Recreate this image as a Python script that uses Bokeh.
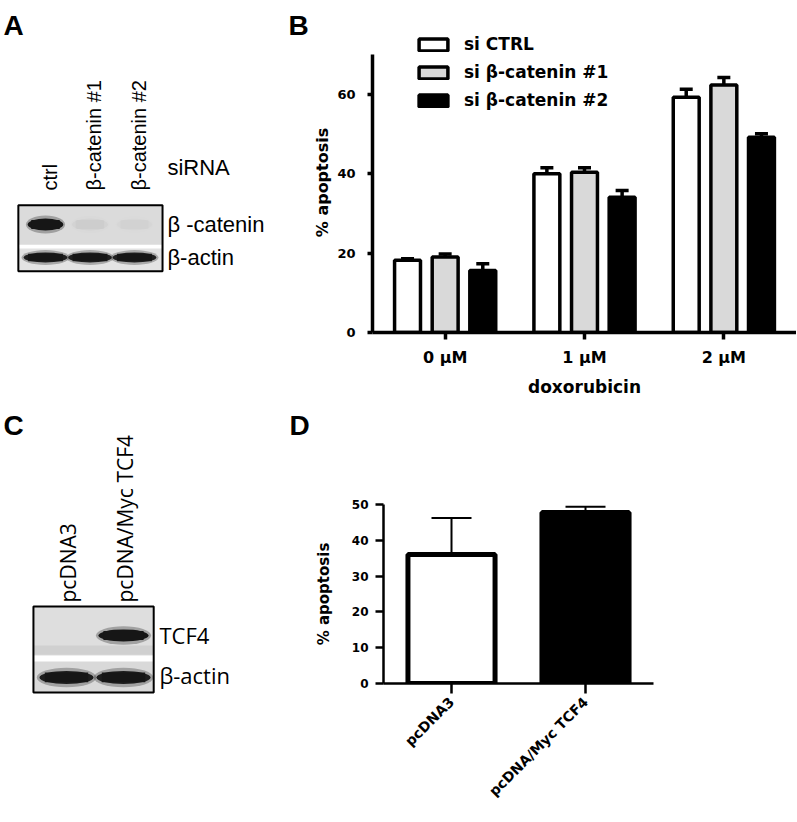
import math
from bokeh.plotting import figure
from bokeh.models import (Range1d, ColumnDataSource, FixedTicker, Whisker, TeeHead,
                          Legend, LegendItem)
from bokeh.layouts import row, column
from bokeh.transform import dodge
from bokeh.embed import file_html
from bokeh.resources import INLINE
from bokeh.core.properties import value

# ---------------- data ----------------
# Panel A: western blot (relative band intensity per lane)
a_lanes = ["ctrl", "β-catenin #1", "β-catenin #2"]
a_bands = ["β -catenin", "β-actin"]
a_bcat = [1.0, 0.03, 0.015]
a_actin = [0.95, 0.93, 0.93]

# Panel B: % apoptosis vs doxorubicin
b_doses = ["0 μM", "1 μM", "2 μM"]
b_series = ["si CTRL", "si β-catenin #1", "si β-catenin #2"]
b_ctrl = [18.2, 40.0, 59.3]
b_ctrl_sem = [0.4, 1.5, 2.0]
b_cat1 = [19.0, 40.4, 62.4]
b_cat1_sem = [0.8, 1.1, 1.9]
b_cat2 = [15.6, 34.1, 49.2]
b_cat2_sem = [1.7, 1.7, 0.9]
b_yticks = [0, 20, 40, 60]

# Panel C: western blot
c_lanes = ["pcDNA3", "pcDNA/Myc TCF4"]
c_bands = ["TCF4", "β-actin"]
c_tcf4 = [0.0, 1.0]
c_actin = [0.95, 0.95]

# Panel D: % apoptosis
d_groups = ["pcDNA3", "pcDNA/Myc TCF4"]
d_values = [36.0, 47.8]
d_sem = [10.2, 1.6]
d_yticks = [0, 10, 20, 30, 40, 50]

CHART_FONT = "DejaVu Sans"
BLOT_FONT_A = "Liberation Sans"
BLOT_FONT_C = "Open Sans"
LEFT_W = 310
RIGHT_W = 486


def blank_fig(width, height, xr, yr):
    p = figure(width=width, height=height, x_range=Range1d(*xr), y_range=Range1d(*yr),
               x_axis_type=None, y_axis_type=None, output_backend="svg",
               toolbar_location=None, min_border=0)
    p.outline_line_color = None
    p.background_fill_color = "white"
    p.border_fill_color = "white"
    return p


def draw_bands(p, intens, row_idx, w, h, color="#161616"):
    n = len(intens)
    src = ColumnDataSource(dict(x=list(range(n)), y=[row_idx] * n, a=intens,
                                ah=[0.3 * v for v in intens]))
    p.ellipse(x="x", y="y", width=w * 1.1, height=h * 1.5, fill_color=color,
              fill_alpha="ah", line_color=None, source=src)
    p.ellipse(x="x", y="y", width=w, height=h, fill_color=color,
              fill_alpha="a", line_color=None, source=src)
    p.rect(x="x", y="y", width=w * 0.8, height=h * 0.75, fill_color=color,
           fill_alpha="a", line_color=None, source=src)


def letter(p, x, y, t):
    p.text(x=[x], y=[y], text=[t], text_align="left", text_baseline="alphabetic",
           text_font=value(BLOT_FONT_A), text_font_style="bold", text_font_size="28px",
           text_color="black")


# ---------------- Panel A (also carries the "B" panel letter) ----------------
pA = blank_fig(LEFT_W, 400, (-1.011, 5.955), (5.333, -6.788))
nA = len(a_lanes)
pA.quad(left=[-0.61], right=[nA - 1 + 0.63], top=[-0.58], bottom=[0.61],
        fill_color="#dbdbdb", line_color=None)
pA.quad(left=[-0.61], right=[nA - 1 + 0.63], top=[0.73], bottom=[1.42],
        fill_color="#e3e3e3", line_color=None)
draw_bands(pA, a_bcat, 0, 0.8, 0.36)
draw_bands(pA, a_actin, 1, 0.98, 0.3)
pA.quad(left=[-0.61], right=[nA - 1 + 0.63], top=[-0.58], bottom=[1.42],
        fill_color=None, line_color="black", line_width=2)
pA.text(x=[i + 0.1 for i in range(nA)], y=[-1.03] * nA, text=a_lanes, angle=math.pi / 2,
        text_align="left", text_baseline="middle", text_font=value(BLOT_FONT_A),
        text_font_size="20px", text_color="black")
pA.text(x=[2.74] * 2, y=[0, 1], text=a_bands, text_align="left", text_baseline="middle",
        text_font=value(BLOT_FONT_A), text_font_size="22px", text_color="black")
pA.text(x=[2.74], y=[-1.727], text=["siRNA"], text_align="left", text_baseline="middle",
        text_font=value(BLOT_FONT_A), text_font_size="22px", text_color="black")
letter(pA, -0.944, -6.03, "A")
letter(pA, 5.461, -6.03, "B")

# ---------------- Panel C (also carries the "D" panel letter) ----------------
pC = blank_fig(LEFT_W, 420, (-1.158, 4.281), (4.405, -5.595))
nC = len(c_lanes)
pC.quad(left=[-0.58], right=[nC - 1 + 0.53], top=[-0.69], bottom=[0.476],
        fill_color="#dedede", line_color=None)
pC.quad(left=[-0.58], right=[nC - 1 + 0.53], top=[0.24], bottom=[0.46],
        fill_color="#d0d0d0", line_color=None)
pC.quad(left=[-0.58], right=[nC - 1 + 0.53], top=[0.619], bottom=[1.357],
        fill_color="#d9d9d9", line_color=None)
draw_bands(pC, c_tcf4, 0, 0.88, 0.29)
draw_bands(pC, c_actin, 1, 0.95, 0.31)
pC.quad(left=[-0.58], right=[nC - 1 + 0.53], top=[-0.69], bottom=[1.357],
        fill_color=None, line_color="black", line_width=2)
pC.text(x=[i + 0.035 for i in range(nC)], y=[-0.786] * nC, text=c_lanes, angle=math.pi / 2,
        text_align="left", text_baseline="middle", text_font=value(BLOT_FONT_C),
        text_font_size="21px", text_color="black")
pC.text(x=[1.63] * 2, y=[0, 0.95], text=c_bands, text_align="left", text_baseline="middle",
        text_font=value(BLOT_FONT_C), text_font_size="22px", text_color="black")
letter(pC, -1.105, -5.0, "C")
letter(pC, 3.912, -5.0, "D")


def style_axes(p, lw):
    for ax in p.axis:
        ax.axis_line_width = lw
        ax.axis_line_color = "black"
        ax.major_tick_line_width = lw
        ax.major_tick_line_color = "black"
        ax.major_tick_in = 0
        ax.minor_tick_line_color = None
        ax.major_label_text_font = CHART_FONT
        ax.major_label_text_font_style = "bold"
        ax.major_label_text_color = "black"
        ax.axis_label_text_font = CHART_FONT
        ax.axis_label_text_font_style = "bold"
        ax.axis_label_text_color = "black"


# ---------------- Panel B ----------------
pB = figure(width=RIGHT_W, height=400, x_range=Range1d(-0.5214, 2.5214),
            y_range=Range1d(0, 75.62), output_backend="svg", toolbar_location=None,
            min_border_left=60, min_border_right=0, min_border_top=32, min_border_bottom=68)
pB.grid.visible = False
pB.outline_line_color = None

offs = [-0.27, 0.0, 0.27]
fills = ["white", "#d9d9d9", "black"]
vals_all = [b_ctrl, b_cat1, b_cat2]
sems_all = [b_ctrl_sem, b_cat1_sem, b_cat2_sem]
renderers = []
for i in range(3):
    s = ColumnDataSource(dict(x=list(range(len(b_doses))), top=vals_all[i],
                              upper=[v + e for v, e in zip(vals_all[i], sems_all[i])]))
    w = Whisker(base=dodge("x", offs[i]), upper="upper", lower="top", source=s,
                line_width=3.5, line_color="black",
                upper_head=TeeHead(size=13, line_width=3.5, line_color="black"),
                lower_head=None)
    pB.add_layout(w)
    r = pB.vbar(x=dodge("x", offs[i]), top="top", bottom=0, width=0.186, source=s,
                fill_color=fills[i], line_color="black", line_width=3.5)
    renderers.append(r)

pB.xaxis.ticker = FixedTicker(ticks=list(range(len(b_doses))))
pB.xaxis.major_label_overrides = {i: d for i, d in enumerate(b_doses)}
pB.xaxis.axis_label = "doxorubicin"
pB.yaxis.ticker = FixedTicker(ticks=b_yticks)
pB.yaxis.bounds = (0, 70)
pB.yaxis.axis_label = "% apoptosis"
style_axes(pB, 3.5)
pB.xaxis.major_tick_out = 7
pB.xaxis.major_label_standoff = 8
pB.xaxis.major_label_text_font_size = "16px"
pB.xaxis.axis_label_text_font_size = "17px"
pB.xaxis.axis_label_standoff = 7
pB.yaxis.major_tick_out = 5
pB.yaxis.major_label_standoff = 12
pB.yaxis.major_label_text_font_size = "13px"
pB.yaxis.axis_label_text_font_size = "16px"
pB.yaxis.axis_label_standoff = 2

legend = Legend(items=[LegendItem(label=b_series[i], renderers=[renderers[i]]) for i in range(3)],
                location=(43, 222), orientation="vertical", glyph_width=36, glyph_height=15,
                label_height=15, spacing=8, padding=0, margin=0, label_standoff=13,
                border_line_color=None, background_fill_alpha=0,
                label_text_font=CHART_FONT, label_text_font_style="bold",
                label_text_font_size="17px", label_text_color="black")
pB.add_layout(legend)

# ---------------- Panel D ----------------
pD = figure(width=RIGHT_W, height=420, x_range=Range1d(-0.5075, 2.5746),
            y_range=Range1d(0, 50), output_backend="svg", toolbar_location=None,
            min_border_left=73, min_border_right=0, min_border_top=104, min_border_bottom=137)
pD.grid.visible = False
pD.outline_line_color = None
sD = ColumnDataSource(dict(x=list(range(len(d_groups))), top=d_values,
                           upper=[v + e for v, e in zip(d_values, d_sem)],
                           fill=["white", "black"]))
pD.add_layout(Whisker(base="x", upper="upper", lower="top", source=sD, line_width=2,
                      line_color="black",
                      upper_head=TeeHead(size=40, line_width=2, line_color="black"),
                      lower_head=None))
pD.vbar(x="x", top="top", bottom=0, width=0.65, source=sD, fill_color="fill",
        line_color="black", line_width=5)
pD.xaxis.ticker = FixedTicker(ticks=list(range(len(d_groups))))
pD.xaxis.major_label_overrides = {i: g for i, g in enumerate(d_groups)}
pD.xaxis.major_label_orientation = math.pi / 4
pD.xaxis.bounds = (-0.5075, 1.507)
pD.yaxis.ticker = FixedTicker(ticks=d_yticks)
pD.yaxis.axis_label = "% apoptosis"
style_axes(pD, 2.5)
pD.xaxis.major_tick_out = 10
pD.xaxis.major_label_standoff = 6
pD.xaxis.major_label_text_font_size = "14px"
pD.yaxis.major_tick_out = 8
pD.yaxis.major_label_standoff = 7
pD.yaxis.major_label_text_font_size = "12px"
pD.yaxis.axis_label_text_font_size = "15px"
pD.yaxis.axis_label_standoff = 16

layout = row(column(pA, pC), column(row(pB), row(pD)))
open("out.html", "w").write(file_html(layout, INLINE))
